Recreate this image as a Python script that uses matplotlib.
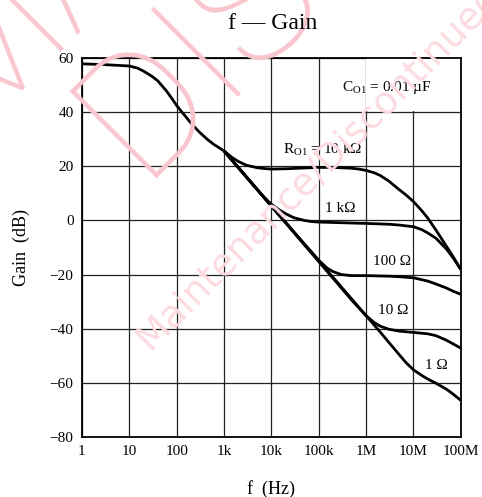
import matplotlib.pyplot as plt
from matplotlib.patches import Rectangle
from matplotlib.ticker import FixedLocator, FixedFormatter, NullLocator

plt.rcParams['font.family'] = ['Liberation Serif', 'DejaVu Serif']
plt.rcParams['mathtext.fontset'] = 'custom'
plt.rcParams['mathtext.rm'] = 'Liberation Serif'

# 共通部分 (1 Hz ～ 1 kHz)
common_f = [1, 3, 10, 15, 20, 30, 40, 60, 80, 100, 130, 160, 200, 300, 450, 600, 800, 1e3]
common_g = [57.9, 57.6, 57.1, 56.3, 55.2, 53.3, 51.6, 48.0, 45.0, 42.5, 40.0, 38.1, 36.0, 32.7,
            29.9, 28.2, 26.8, 25.7]

# R_O1 = 10 kΩ
r10k_f = [1e3, 1.5e3, 2e3, 3e3, 5e3, 7e3, 1e4, 2e4, 5e4, 1e5, 2e5, 5e5, 7e5, 1e6, 1.5e6, 2e6,
          3e6, 5e6, 7e6, 1e7, 1.5e7, 2e7, 3e7, 5e7, 7e7, 1e8]
r10k_g = [25.7, 23.2, 21.8, 20.4, 19.5, 19.2, 19.0, 19.1, 19.4, 19.6, 19.6, 19.3, 19.0, 18.5, 17.6, 16.6,
          14.6, 11.4, 9.4, 7.0, 3.6, 0.9, -3.6, -9.6, -13.6, -18.1]

# R_O1 = 1 kΩ
r1k_f = [1e3, 5e3, 7e3, 1e4, 1.5e4, 2e4, 3e4, 5e4, 7e4, 1e5, 1e6, 3e6, 5e6, 7e6, 1e7, 1.5e7,
         2e7, 3e7, 5e7, 7e7, 1e8]
r1k_g = [25.7, 11.5, 8.6, 6.0, 3.8, 2.5, 1.0, 0.0, -0.4, -0.6, -1.1, -1.4, -1.7, -2.0, -2.3, -3.4,
         -4.6, -6.6, -10.6, -14.0, -18.1]

# R_O1 = 100 Ω
r100_f = [1e3, 5e4, 7e4, 1e5, 1.5e5, 2e5, 3e5, 5e5, 1e6, 3e6, 5e6, 1e7, 2e7, 3e7, 5e7, 7e7, 1e8]
r100_g = [25.7, -8.8, -11.6, -14.7, -17.6, -18.9, -20.0, -20.4, -20.4, -20.6, -20.8, -21.2, -22.4,
          -23.5, -25.0, -26.2, -27.3]

# R_O1 = 10 Ω
r10_f = [1e3, 5e5, 7e5, 1e6, 1.5e6, 2e6, 3e6, 5e6, 1e7, 2e7, 3e7, 5e7, 7e7, 1e8]
r10_g = [25.7, -29.5, -32.3, -35.2, -37.8, -39.1, -40.2, -40.9, -41.4, -41.9, -42.6, -44.3, -45.7, -47.2]

# R_O1 = 1 Ω
r1_f = [1e3, 1e6, 2e6, 3e6, 5e6, 7e6, 1e7, 1.5e7, 2e7, 3e7, 5e7, 7e7, 1e8]
r1_g = [25.7, -35.2, -41.3, -45.0, -49.6, -52.6, -55.2, -57.3, -58.6, -60.2, -62.4, -64.3, -66.5]

tick_f = [1, 10, 100, 1e3, 1e4, 1e5, 1e6, 1e7, 1e8]
tick_lbl = ['1', '10', '100', '1k', '10k', '100k', '1M', '10M', '100M']
tick_g = [-80, -60, -40, -20, 0, 20, 40, 60]

fig = plt.figure(figsize=(4.82, 4.97), dpi=100)

# 透かし (watermark)
wm = dict(color='#f9c6cf', family='Roboto', weight='light', rotation=45,
          rotation_mode='anchor', ha='left', va='baseline', zorder=0, clip_on=True)
fig.text(-0.07, 0.74, 'MAINTENANCE', fontsize=124, **wm)
fig.text(0.29, 0.64, 'DISCONTINUED', fontsize=124, **wm)
fig.text(0.31, 0.293, 'Maintenance/Discontinued', fontsize=27,
         color='#fcdbe0', family='DejaVu Sans', rotation=45,
         rotation_mode='anchor', ha='left', va='baseline', zorder=0, clip_on=True)

ax = fig.add_axes([0.170, 0.121, 0.786, 0.762])
ax.patch.set_alpha(0)
ax.set_xscale('log')
ax.set_xlim(1, 1e8)
ax.set_ylim(-80, 60)

ax.set_axisbelow(True)
ax.grid(True, color='#222222', lw=0.9)
# C_O1 の枠（グリッドを隠す）
ax.add_patch(Rectangle((1e6, 40.6), 1e8 - 1e6, 19.4, facecolor='white',
                       edgecolor='none', zorder=0.8))

kw = dict(color='black', lw=2.0, solid_capstyle='butt', solid_joinstyle='round', zorder=3)
ax.plot(common_f, common_g, **kw)
ax.plot(r10k_f, r10k_g, **kw)
ax.plot(r1k_f, r1k_g, **kw)
ax.plot(r100_f, r100_g, **kw)
ax.plot(r10_f, r10_g, **kw)
ax.plot(r1_f, r1_g, **kw)

fs = 11
ax.text(2.7e6, 49.2, r'C$_{\rm O1}$ = 0.01 µF', fontsize=fs, ha='center', va='center', zorder=4)
ax.text(1.23e5, 26.0, r'R$_{\rm O1}$ = 10 kΩ', fontsize=fs, ha='center', va='center', zorder=4)
ax.text(2.9e5, 4.6, '1 kΩ', fontsize=fs, ha='center', va='center', zorder=4)
ax.text(3.5e6, -15.3, '100 Ω', fontsize=fs, ha='center', va='center', zorder=4)
ax.text(3.7e6, -33.3, '10 Ω', fontsize=fs, ha='center', va='center', zorder=4)
ax.text(3.1e7, -53.7, '1 Ω', fontsize=fs, ha='center', va='center', zorder=4)

ax.xaxis.set_major_locator(FixedLocator(tick_f))
ax.xaxis.set_major_formatter(FixedFormatter(tick_lbl))
ax.xaxis.set_minor_locator(NullLocator())
ax.set_yticks(tick_g)
ax.tick_params(length=0, labelsize=11, pad=6)

for s in ax.spines.values():
    s.set_linewidth(1.3)
    s.set_zorder(5)

ax.set_xlabel('f  (Hz)', fontsize=13, labelpad=16)
ax.set_ylabel('Gain  (dB)', fontsize=13, labelpad=14)
fig.text(0.565, 0.953, 'f — Gain', fontsize=17, ha='center', va='center')

fig.savefig('out.png', dpi=100)
